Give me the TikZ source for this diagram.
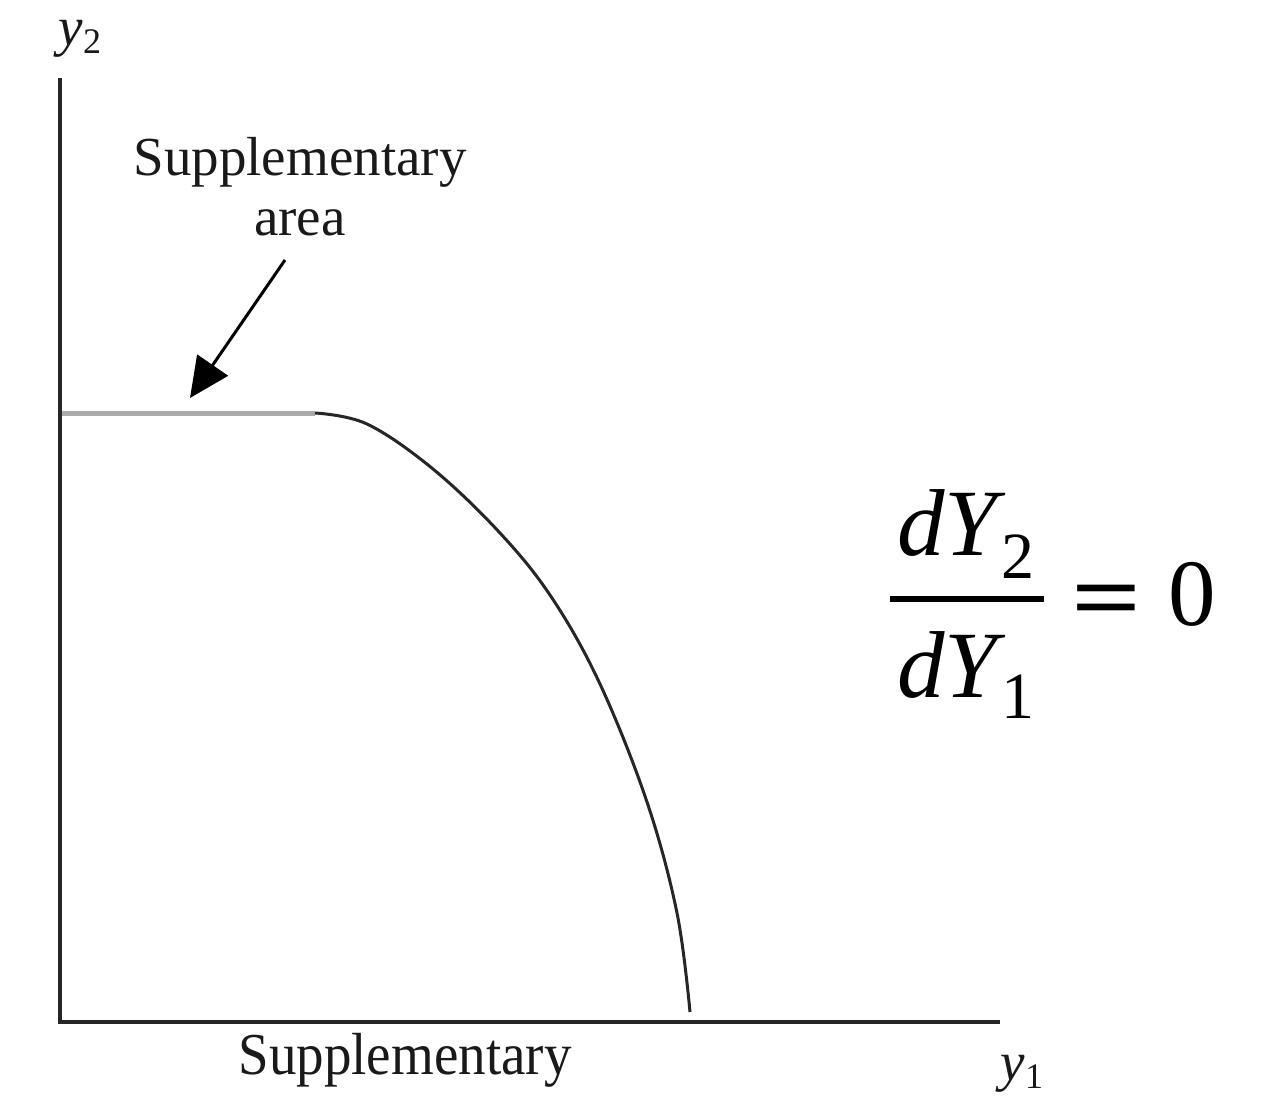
\documentclass[tikz,border=0pt]{standalone}
\usepackage{fontspec}
\setmainfont{Liberation Serif}
\usetikzlibrary{arrows.meta}
\begin{document}
\begin{tikzpicture}[x=1pt,y=-1pt,
  axisline/.style={line width=4pt, draw=black!85},
  curveline/.style={line width=3pt, draw=black!85},
  flatline/.style={line width=5pt, draw=black!33},
  lbl/.style={font=\fontsize{55}{60}\selectfont, inner sep=0pt, text=black!90},
  big/.style={font=\fontsize{95}{100}\selectfont, inner sep=0pt}]
\useasboundingbox (0,0) rectangle (1261,1096);
% axes
\coordinate (ytop) at (60,78);
\coordinate (o) at (60,1022);
\coordinate (xend) at (1000,1022);
\draw[axisline] (ytop) -- (o) -- (xend);
% flat (supplementary) segment
\coordinate (flat0) at (62,413);
\coordinate (flat1) at (315,413);
\draw[flatline] (flat0) -- (flat1);
% frontier curve
\draw[curveline] plot[smooth, tension=0.6] coordinates {(315,413) (367,424) (433,469) (500,533) (552,598) (600,684) (647,802) (677,913) (690,1012)};
% labels
\node[lbl, anchor=base] (y2) at (80,45) {\textit{y}\raisebox{-8pt}{\fontsize{36}{40}\selectfont 2}};
\node[lbl, align=center, anchor=base] (supA) at (300,235) {Supplementary\\area};
\coordinate (arrS) at (285,260);
\coordinate (arrE) at (190,398);
\draw[line width=3pt, -{Triangle[length=40pt,width=37pt]}] (arrS) -- (arrE);
\node[lbl, anchor=base] (supB) at (405,1074) {\scalebox{1}[1.08]{Supplementary}};
\node[lbl, anchor=base] (y1) at (1022,1080) {\textit{y}\raisebox{-8pt}{\fontsize{36}{40}\selectfont 1}};
% fraction
\node[big, anchor=base] (num) at (966,555) {\textit{dY}\kern-4pt\raisebox{-23pt}{\fontsize{66}{70}\selectfont 2}};
\coordinate (bar0) at (890,599);
\coordinate (bar1) at (1044,599);
\draw[line width=6pt] (bar0) -- (bar1);
\node[big, anchor=base] (den) at (966,697) {\textit{dY}\kern-4pt\raisebox{-21pt}{\fontsize{66}{70}\selectfont 1}};
\node[big, anchor=base] (eq) at (1107,629) {\scalebox{1.3}[1]{\bfseries =}};
\node[big, anchor=base] (zero) at (1192,625) {0};
\end{tikzpicture}
\end{document}
